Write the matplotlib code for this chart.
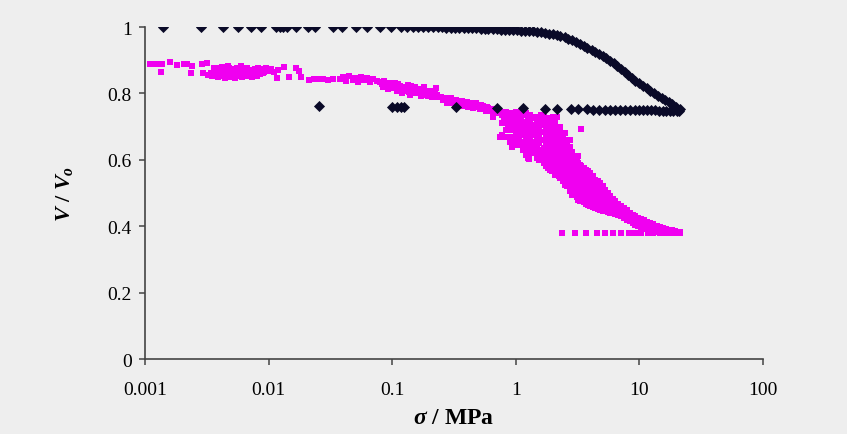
import matplotlib.pyplot as plt

plt.rcParams['font.family'] = ['Liberation Serif', 'DejaVu Serif']
plt.rcParams['mathtext.fontset'] = 'custom'
plt.rcParams['mathtext.it'] = 'Liberation Serif:italic:bold'
plt.rcParams['mathtext.rm'] = 'Liberation Serif:bold'
plt.rcParams['mathtext.bf'] = 'Liberation Serif:bold'

# --- black series: loading at V/Vo = 1, then compression curve ---
load_x = [0.00141, 0.00284, 0.0043, 0.0057, 0.0072, 0.0086, 0.0115, 0.0124, 0.0131,
          0.0140, 0.0167, 0.021, 0.0237, 0.0334, 0.039, 0.051, 0.063, 0.080, 0.097,
          0.118, 0.131, 0.146, 0.163, 0.178, 0.196, 0.215, 0.235, 0.255, 0.275, 0.30,
          0.325, 0.35, 0.38, 0.41, 0.44, 0.48, 0.52, 0.56, 0.60, 0.65, 0.70, 0.76,
          0.82, 0.88, 0.95, 1.02, 1.1, 1.18, 1.27, 1.37, 1.48, 1.6, 1.72, 1.85, 2.0,
          2.15, 2.3, 2.48, 2.66, 2.86, 3.07, 3.3, 3.55, 3.8, 4.1, 4.4, 4.7, 5.05, 5.4,
          5.8, 6.2, 6.65, 7.1, 7.6, 8.15, 8.7, 9.3, 10.0, 10.7, 11.5, 12.3, 13.2, 14.1,
          15.1, 16.2, 17.3, 18.5, 19.8, 21.3]
load_y = [1.0, 1.0, 1.0, 1.0, 1.0, 1.0, 1.0, 1.0, 1.0,
          1.0, 1.0, 1.0, 1.0, 1.0, 1.0, 1.0, 1.0, 1.0, 1.0,
          1.0, 1.0, 1.0, 1.0, 1.0, 1.0, 0.999, 0.999, 0.999, 0.998, 0.998,
          0.998, 0.997, 0.997, 0.997, 0.996, 0.996, 0.995, 0.995, 0.994, 0.993, 0.993, 0.992,
          0.991, 0.991, 0.990, 0.990, 0.989, 0.988, 0.988, 0.987, 0.985, 0.984, 0.982, 0.980, 0.978,
          0.976, 0.973, 0.969, 0.965, 0.960, 0.955, 0.949, 0.944, 0.938, 0.932, 0.926, 0.920, 0.913, 0.906,
          0.898, 0.891, 0.882, 0.873, 0.864, 0.854, 0.846, 0.838, 0.830, 0.823, 0.815, 0.807, 0.800, 0.793,
          0.786, 0.780, 0.774, 0.767, 0.760, 0.752]

# unloading at ~0.75
unload_x = [21.0, 20.0, 18.8, 17.6, 16.5, 15.4, 14.3, 13.3, 12.4, 11.5, 10.7, 10.0,
            9.2, 8.4, 7.7, 7.0, 6.3, 5.78, 5.25, 4.74, 4.2, 3.77, 3.2, 2.78, 2.17,
            1.72, 1.15, 0.71, 0.33, 0.125, 0.118, 0.109, 0.100, 0.0256]
unload_y = [0.748, 0.748, 0.748, 0.748, 0.748, 0.748, 0.748, 0.749, 0.749, 0.749, 0.749, 0.749,
            0.749, 0.749, 0.750, 0.750, 0.750, 0.750, 0.750, 0.751, 0.751, 0.752, 0.752, 0.753, 0.753,
            0.754, 0.755, 0.756, 0.758, 0.760, 0.760, 0.760, 0.760, 0.763]

# --- magenta series ---
mag_plateau = [(0.0011, 0.889), (0.00116, 0.889), (0.00122, 0.890), (0.00127, 0.889),
               (0.00134, 0.866), (0.00137, 0.889), (0.00159, 0.894), (0.00183, 0.886),
               (0.00208, 0.890), (0.00217, 0.888), (0.00234, 0.861), (0.00241, 0.883),
               (0.00288, 0.890), (0.00293, 0.861), (0.00316, 0.891), (0.00325, 0.856),
               (0.0034, 0.862), (0.0035, 0.851), (0.0036, 0.870), (0.0037, 0.858),
               (0.0038, 0.876), (0.0039, 0.848), (0.0040, 0.866), (0.0041, 0.855),
               (0.0042, 0.879), (0.0043, 0.861), (0.0044, 0.847), (0.0045, 0.870),
               (0.0046, 0.856), (0.0047, 0.882), (0.0048, 0.864), (0.0049, 0.850),
               (0.0050, 0.873), (0.0052, 0.859), (0.0053, 0.847), (0.0054, 0.868),
               (0.0055, 0.878), (0.0057, 0.855), (0.0058, 0.864), (0.0060, 0.884),
               (0.0061, 0.849), (0.0062, 0.872), (0.0064, 0.859), (0.0065, 0.866),
               (0.0067, 0.877), (0.0068, 0.851), (0.0070, 0.862), (0.0072, 0.870),
               (0.0073, 0.848), (0.0075, 0.858), (0.0077, 0.875), (0.0079, 0.864),
               (0.0081, 0.852), (0.0083, 0.868), (0.0085, 0.857), (0.0088, 0.874),
               (0.0092, 0.866), (0.0096, 0.878), (0.0100, 0.869), (0.0105, 0.873),
               (0.0110, 0.866), (0.0116, 0.846), (0.0120, 0.872), (0.0134, 0.881),
               (0.0146, 0.850), (0.0167, 0.878), (0.0176, 0.868), (0.0183, 0.850),
               (0.0212, 0.840), (0.0036, 0.878), (0.0039, 0.860), (0.0042, 0.852),
               (0.0045, 0.862), (0.0048, 0.876), (0.0051, 0.866), (0.0055, 0.852),
               (0.0059, 0.872), (0.0063, 0.878), (0.0066, 0.857), (0.0069, 0.870),
               (0.0074, 0.866), (0.0078, 0.855), (0.0082, 0.876), (0.0090, 0.860),
               (0.0095, 0.870)]

mag_mid = [(0.0231, 0.843), (0.0250, 0.842), (0.0276, 0.843), (0.030, 0.841), (0.033, 0.844),
           (0.0378, 0.842), (0.040, 0.848), (0.042, 0.836), (0.045, 0.852), (0.048, 0.840),
           (0.050, 0.846), (0.053, 0.834), (0.056, 0.850), (0.059, 0.839), (0.062, 0.845),
           (0.066, 0.833), (0.070, 0.842), (0.080, 0.835), (0.084, 0.820), (0.088, 0.829),
           (0.092, 0.812), (0.096, 0.825), (0.100, 0.817), (0.105, 0.830), (0.110, 0.808),
           (0.116, 0.822), (0.120, 0.800), (0.125, 0.815), (0.130, 0.806), (0.135, 0.826),
           (0.140, 0.795), (0.146, 0.810), (0.152, 0.820), (0.158, 0.800), (0.165, 0.812),
           (0.172, 0.792), (0.180, 0.818), (0.188, 0.803), (0.196, 0.791), (0.205, 0.808),
           (0.215, 0.797), (0.225, 0.815), (0.235, 0.790), (0.244, 0.788), (0.26, 0.780),
           (0.28, 0.772), (0.30, 0.785), (0.32, 0.765), (0.34, 0.777), (0.36, 0.768),
           (0.38, 0.762), (0.40, 0.774), (0.42, 0.765), (0.45, 0.757), (0.48, 0.770),
           (0.51, 0.752), (0.54, 0.762), (0.57, 0.748), (0.60, 0.756), (0.62, 0.747),
           (0.66, 0.729), (0.075, 0.838), (0.082, 0.828), (0.086, 0.836), (0.090, 0.822),
           (0.094, 0.832), (0.098, 0.815), (0.102, 0.826), (0.107, 0.818), (0.112, 0.828),
           (0.118, 0.812), (0.122, 0.820), (0.128, 0.810), (0.133, 0.818), (0.138, 0.805),
           (0.143, 0.822), (0.149, 0.802), (0.155, 0.812), (0.161, 0.806), (0.168, 0.800),
           (0.176, 0.810), (0.184, 0.796), (0.192, 0.808), (0.200, 0.800), (0.210, 0.790),
           (0.220, 0.803), (0.230, 0.795), (0.25, 0.790), (0.27, 0.785), (0.29, 0.778),
           (0.31, 0.772), (0.33, 0.780), (0.35, 0.770), (0.37, 0.776), (0.39, 0.768),
           (0.41, 0.760), (0.43, 0.772), (0.46, 0.765), (0.49, 0.758), (0.52, 0.765),
           (0.55, 0.752), (0.58, 0.758), (0.64, 0.752), (0.68, 0.748), (0.70, 0.740),
           (2.1, 0.557), (1.27, 0.602), (1.53, 0.602)]

drop_x = [0.74, 0.77, 0.8, 0.83, 0.87, 0.90, 0.93, 0.96, 1.0, 1.03, 1.07, 1.11, 1.15,
          1.2, 1.25, 1.3, 1.35, 1.42, 1.48, 1.54, 1.6, 1.68, 1.75, 1.82, 1.9, 1.95,
          2.0, 2.07, 2.15, 2.22, 2.3, 2.4, 2.5, 2.62, 2.75, 2.87, 3.0, 3.1, 3.2, 3.3,
          3.4, 3.55, 3.7, 3.85, 4.0, 4.2, 4.4, 4.6, 4.8, 5.05, 5.3, 5.55, 5.8, 6.1,
          6.4, 6.75, 7.1, 7.5, 7.9, 8.35, 8.8, 9.3, 9.8, 10.4, 11.0, 11.6, 12.3, 13.0,
          13.8, 14.6, 15.5, 16.4, 17.3, 18.3, 19.3, 20.3, 21.3]
drop_y = [[0.745, 0.67], [0.735, 0.71, 0.675], [0.74, 0.67, 0.72], [0.745, 0.725, 0.69],
          [0.735, 0.708, 0.67], [0.74, 0.72, 0.69, 0.655], [0.73, 0.70, 0.639, 0.67],
          [0.74, 0.715, 0.69, 0.66], [0.745, 0.725, 0.70, 0.68, 0.65, 0.67],
          [0.735, 0.71, 0.69, 0.665, 0.645], [0.74, 0.715, 0.69, 0.66, 0.67],
          [0.725, 0.70, 0.675, 0.645], [0.735, 0.71, 0.685, 0.655, 0.63],
          [0.74, 0.715, 0.695, 0.67, 0.64, 0.615], [0.73, 0.705, 0.68, 0.65, 0.605, 0.625],
          [0.735, 0.71, 0.69, 0.66, 0.635], [0.725, 0.70, 0.675, 0.645, 0.62],
          [0.73, 0.705, 0.685, 0.655, 0.63], [0.72, 0.695, 0.67, 0.64, 0.605, 0.615],
          [0.725, 0.70, 0.675, 0.65, 0.62, 0.60], [0.735, 0.71, 0.685, 0.66, 0.63, 0.60],
          [0.73, 0.705, 0.685, 0.66, 0.635, 0.61, 0.59], [0.72, 0.70, 0.675, 0.65, 0.62, 0.595, 0.58],
          [0.725, 0.705, 0.68, 0.655, 0.63, 0.60, 0.575], [0.715, 0.69, 0.665, 0.64, 0.61, 0.585, 0.57],
          [0.71, 0.685, 0.66, 0.63, 0.60, 0.58, 0.565],
          [0.73, 0.705, 0.685, 0.665, 0.645, 0.625, 0.605, 0.585, 0.565],
          [0.715, 0.69, 0.67, 0.65, 0.63, 0.61, 0.59, 0.57, 0.555],
          [0.729, 0.70, 0.68, 0.66, 0.64, 0.62, 0.60, 0.58, 0.56],
          [0.69, 0.67, 0.65, 0.63, 0.61, 0.59, 0.57, 0.55],
          [0.70, 0.68, 0.66, 0.64, 0.62, 0.60, 0.58, 0.56, 0.545],
          [0.675, 0.655, 0.635, 0.615, 0.595, 0.575, 0.555, 0.535],
          [0.68, 0.66, 0.64, 0.62, 0.60, 0.58, 0.56, 0.54, 0.525],
          [0.655, 0.635, 0.615, 0.595, 0.575, 0.555, 0.535, 0.52],
          [0.66, 0.64, 0.62, 0.60, 0.58, 0.56, 0.54, 0.52, 0.505],
          [0.625, 0.605, 0.585, 0.565, 0.545, 0.525, 0.51, 0.495],
          [0.61, 0.59, 0.57, 0.55, 0.53, 0.51, 0.495],
          [0.60, 0.58, 0.56, 0.54, 0.52, 0.50, 0.487],
          [0.61, 0.59, 0.57, 0.55, 0.53, 0.51, 0.495, 0.48],
          [0.585, 0.565, 0.545, 0.525, 0.505, 0.49, 0.477],
          [0.693, 0.58, 0.56, 0.54, 0.52, 0.50, 0.485, 0.475],
          [0.575, 0.555, 0.535, 0.515, 0.50, 0.485, 0.472],
          [0.57, 0.55, 0.53, 0.51, 0.495, 0.48, 0.468],
          [0.565, 0.545, 0.525, 0.505, 0.49, 0.475, 0.465],
          [0.56, 0.54, 0.52, 0.50, 0.485, 0.47, 0.462],
          [0.55, 0.53, 0.51, 0.495, 0.48, 0.468, 0.458],
          [0.54, 0.52, 0.505, 0.49, 0.475, 0.462, 0.455],
          [0.535, 0.515, 0.50, 0.485, 0.47, 0.46, 0.452],
          [0.53, 0.51, 0.495, 0.48, 0.467, 0.455, 0.448],
          [0.52, 0.50, 0.487, 0.475, 0.462, 0.452, 0.446],
          [0.51, 0.495, 0.48, 0.467, 0.455, 0.447],
          [0.50, 0.487, 0.474, 0.462, 0.452, 0.444],
          [0.49, 0.478, 0.466, 0.455, 0.446, 0.44],
          [0.482, 0.47, 0.46, 0.45, 0.442],
          [0.475, 0.464, 0.453, 0.444, 0.437],
          [0.468, 0.458, 0.448, 0.44, 0.433],
          [0.462, 0.452, 0.443, 0.435, 0.43],
          [0.456, 0.446, 0.437, 0.43, 0.425],
          [0.45, 0.44, 0.432, 0.425, 0.42],
          [0.44, 0.43, 0.422, 0.415], [0.435, 0.425, 0.418, 0.41],
          [0.43, 0.42, 0.412, 0.405], [0.425, 0.415, 0.408, 0.40],
          [0.421, 0.412, 0.404, 0.397], [0.418, 0.408, 0.40, 0.395],
          [0.414, 0.404, 0.396, 0.391], [0.41, 0.40, 0.393, 0.388],
          [0.406, 0.397, 0.39, 0.385], [0.402, 0.394, 0.387, 0.383],
          [0.399, 0.391, 0.385, 0.381], [0.396, 0.389, 0.383, 0.38],
          [0.393, 0.386, 0.381], [0.39, 0.384, 0.38], [0.388, 0.382],
          [0.386, 0.381], [0.384, 0.38], [0.382, 0.38]]

mag_unload_x = [2.35, 3.01, 3.7, 4.5, 5.27, 6.15, 7.1, 8.28, 9.2, 10.4, 11.8, 12.9,
                14.7, 16.6, 18.8, 21.3]
mag_unload_y = [0.38] * len(mag_unload_x)

# assemble magenta points
mx = [p[0] for p in mag_plateau + mag_mid]
my = [p[1] for p in mag_plateau + mag_mid]
for x, ys in zip(drop_x, drop_y):
    for y in ys:
        mx.append(x)
        my.append(y)
mx += mag_unload_x
my += mag_unload_y

bg = '#eeeeee'
fig = plt.figure(figsize=(8.47, 4.35), dpi=100, facecolor=bg)
ax = fig.add_axes([0.1712, 0.1724, 0.7296, 0.7632])
ax.set_facecolor(bg)

ax.scatter(mx, my, marker='s', s=15, color='#f000f0', linewidths=0, zorder=2)
ax.scatter(load_x + unload_x, load_y + unload_y, marker='D', s=32,
           color='#0a0a28', linewidths=0, zorder=3)

ax.set_xscale('log')
ax.set_xlim(0.001, 100)
ax.set_ylim(0, 1)
ax.set_xticks([0.001, 0.01, 0.1, 1, 10, 100])
ax.set_xticklabels(['0.001', '0.01', '0.1', '1', '10', '100'])
ax.set_yticks([0, 0.2, 0.4, 0.6, 0.8, 1])
ax.set_yticklabels(['0', '0.2', '0.4', '0.6', '0.8', '1'])
ax.minorticks_off()

for s in ['top', 'right']:
    ax.spines[s].set_visible(False)
for s in ['left', 'bottom']:
    ax.spines[s].set_color('#444444')
    ax.spines[s].set_linewidth(1.2)
ax.tick_params(direction='out', length=4.5, width=1.1, color='#444444',
               labelsize=14, pad=5)
ax.tick_params(axis='x', pad=11)

ax.set_xlabel(r'$\sigma$ / MPa', fontsize=17, fontweight='bold', labelpad=7)
ax.set_ylabel(r'$V$ / $V_o$', fontsize=16, fontweight='bold', labelpad=23)

fig.savefig('out.png', dpi=100, facecolor=bg)
